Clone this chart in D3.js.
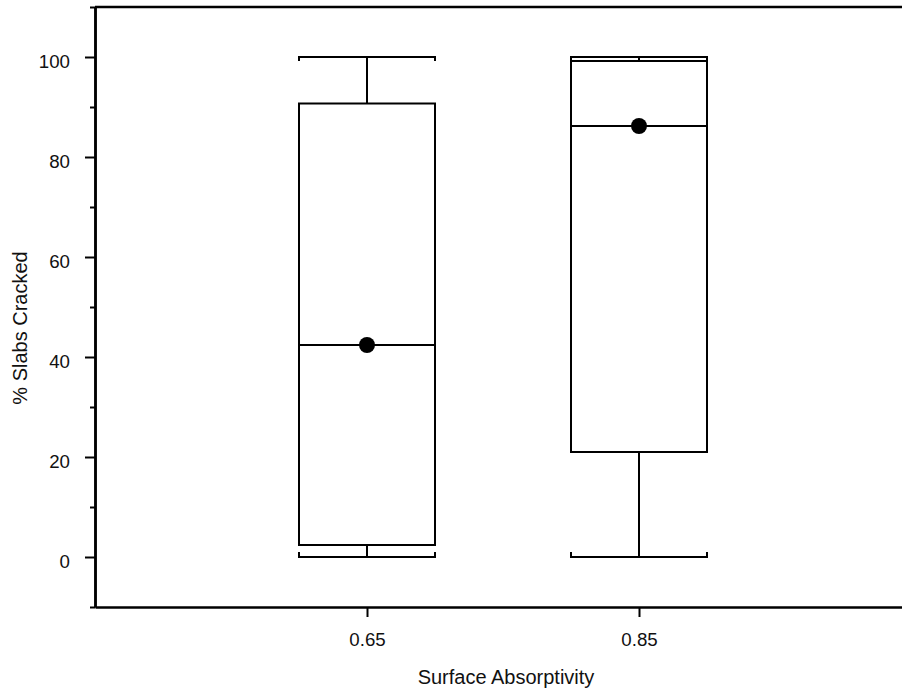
<!DOCTYPE html>
<html>
<head>
<meta charset="utf-8">
<script src="https://cdn.jsdelivr.net/npm/d3@7"></script>
<style>
  body { margin: 0; background: #fff; }
  svg { display: block; font-family: "Liberation Sans", Arial, sans-serif; }
</style>
</head>
<body>
<div id="chart"></div>
<script>
// box plot values
var categories = [0.65, 0.85];
var whiskerLow = [0, 0];
var q1 = [2.4, 21];
var median = [42.4, 86.2];
var q3 = [90.7, 99.2];
var whiskerHigh = [100, 100];
var mean = [42.4, 86.2];
var yMajor = [0, 20, 40, 60, 80, 100];
var yMinor = [-10, 10, 30, 50, 70, 90, 110];

var width = 902, height = 694;
var svg = d3.select("#chart").append("svg")
  .attr("width", width).attr("height", height);

var x = d3.scaleLinear().domain([0.45, 1.05]).range([95, 911]);
var y = d3.scaleLinear().domain([-10, 110]).range([607, 7]);
var halfBox = 0.05;
var fontPx = 18.7;
var titlePx = 20;

var boxes = categories.map(function(c, i) {
  return {c: c, lo: whiskerLow[i], q1: q1[i], med: median[i], q3: q3[i], hi: whiskerHigh[i], mean: mean[i]};
});

var g = svg.append("g").attr("fill", "none").attr("stroke", "#000").attr("stroke-width", 2);
var b = g.selectAll("g.box").data(boxes).enter().append("g").attr("class", "box");

// whiskers
b.append("line")
  .attr("x1", function(d) { return x(d.c); }).attr("x2", function(d) { return x(d.c); })
  .attr("y1", function(d) { return y(d.q3); }).attr("y2", function(d) { return y(d.hi); });
b.append("line")
  .attr("x1", function(d) { return x(d.c); }).attr("x2", function(d) { return x(d.c); })
  .attr("y1", function(d) { return y(d.q1); }).attr("y2", function(d) { return y(d.lo); });
// caps with small hooks at the ends
b.append("path").attr("d", function(d) {
  var l = x(d.c - halfBox), r = x(d.c + halfBox), yy = y(d.hi);
  return "M" + l + "," + (yy + 4) + "V" + yy + "H" + r + "V" + (yy + 4);
});
b.append("path").attr("d", function(d) {
  var l = x(d.c - halfBox), r = x(d.c + halfBox), yy = y(d.lo);
  return "M" + l + "," + (yy - 5) + "V" + yy + "H" + r + "V" + (yy - 5);
});
// box
b.append("rect")
  .attr("x", function(d) { return x(d.c - halfBox); })
  .attr("width", function(d) { return x(d.c + halfBox) - x(d.c - halfBox); })
  .attr("y", function(d) { return y(d.q3); })
  .attr("height", function(d) { return y(d.q1) - y(d.q3); })
  .attr("fill", "#fff");
b.append("line")
  .attr("x1", function(d) { return x(d.c - halfBox); }).attr("x2", function(d) { return x(d.c + halfBox); })
  .attr("y1", function(d) { return y(d.med); }).attr("y2", function(d) { return y(d.med); });
b.append("circle")
  .attr("cx", function(d) { return x(d.c); })
  .attr("cy", function(d) { return y(d.mean); })
  .attr("r", 8).attr("fill", "#000").attr("stroke", "none");

// axes
var yAxis = svg.append("g").attr("transform", "translate(95,0)")
  .call(d3.axisLeft(y).tickValues(yMajor).tickSize(10).tickSizeOuter(0).tickPadding(15).tickFormat(d3.format("d")));
var yAxisMinor = svg.append("g").attr("transform", "translate(95,0)")
  .call(d3.axisLeft(y).tickValues(yMinor).tickSize(5).tickSizeOuter(0).tickFormat(""));
var xAxis = svg.append("g").attr("transform", "translate(0,607)")
  .call(d3.axisBottom(x).tickValues(categories).tickSize(10).tickSizeOuter(0).tickPadding(16).tickFormat(d3.format(".2f")));

[yAxis, yAxisMinor, xAxis].forEach(function(a) {
  a.selectAll("path.domain").attr("stroke-width", 2.5);
  a.selectAll(".tick line").attr("stroke-width", 2);
  a.selectAll("text").attr("font-size", fontPx).attr("font-family", "Liberation Sans, Arial, sans-serif").attr("fill", "#111");
});
yAxis.selectAll("text").attr("dy", "0.55em");

// top frame line
svg.append("line")
  .attr("x1", x.range()[0]).attr("x2", width)
  .attr("y1", y(110)).attr("y2", y(110))
  .attr("stroke", "#000").attr("stroke-width", 2.5);

svg.append("text")
  .attr("x", 506).attr("y", 684)
  .attr("text-anchor", "middle").attr("font-size", titlePx).attr("fill", "#111")
  .text("Surface Absorptivity");
svg.append("text")
  .attr("transform", "translate(27,328) rotate(-90)")
  .attr("text-anchor", "middle").attr("font-size", titlePx).attr("fill", "#111")
  .text("% Slabs Cracked");
</script>
</body>
</html>
